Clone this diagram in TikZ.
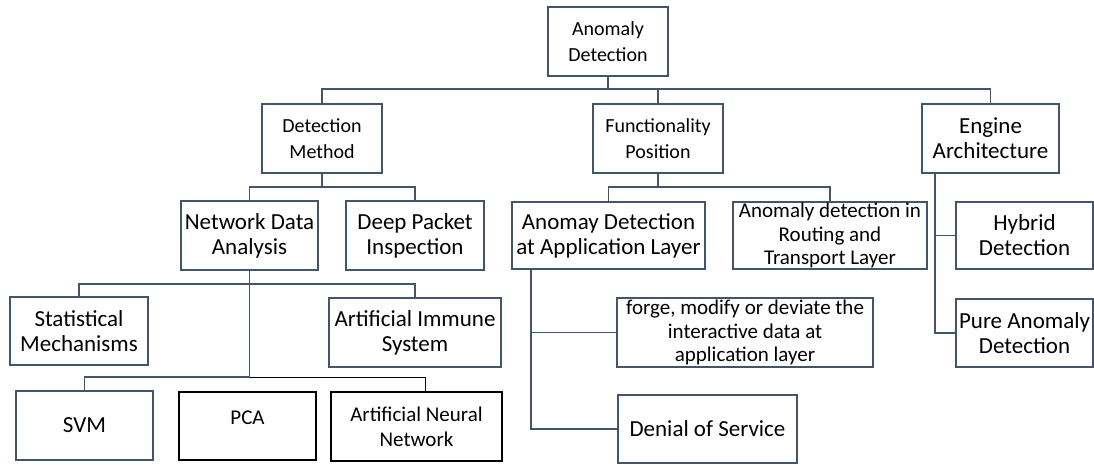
\documentclass[tikz,border=0pt]{standalone}
\usepackage{fontspec}
\setmainfont{Carlito}
\definecolor{slate}{RGB}{68,84,106}
\tikzset{
  box/.style={draw=slate, line width=1.8pt, fill=white, inner sep=0pt, align=center, text=black},
  bigtxt/.style={font=\fontsize{23}{25}\selectfont},
  midtxt/.style={font=\fontsize{20}{25.5}\selectfont},
  smalltxt/.style={font=\fontsize{21}{23.3}\selectfont},
  blackbox/.style={draw=black, line width=2.4pt, fill=white, inner sep=0pt, align=center},
  conn/.style={draw=slate, line width=1.8pt},
  thinconn/.style={draw=black, line width=1pt}
}
\begin{document}
\begin{tikzpicture}[x=1pt,y=-1pt]
\useasboundingbox (0,0) rectangle (1094,464);
% level 0/1
\node[box,midtxt,minimum width=120pt,minimum height=69pt] (root) at (608,41.5) {Anomaly\\Detection};
\node[box,midtxt,minimum width=120pt,minimum height=69pt] (dm) at (322,138.5) {Detection\\Method};
\node[box,midtxt,minimum width=130pt,minimum height=69pt] (fp) at (658,138.5) {Functionality\\Position};
\node[box,bigtxt,minimum width=137pt,minimum height=69pt] (ea) at (990.5,138.5) {Engine\\Architecture};
% level 2
\node[box,bigtxt,minimum width=137pt,minimum height=69pt] (nda) at (249.5,235.5) {Network Data\\Analysis};
\node[box,bigtxt,minimum width=138pt,minimum height=69pt] (dpi) at (415,235.5) {Deep Packet\\Inspection};
\node[box,bigtxt,minimum width=193pt,minimum height=67pt] (aal) at (608.5,235.5) {Anomay Detection\\at Application Layer};
\node[box,smalltxt,minimum width=194pt,minimum height=67pt] (art) at (830,235.5) {Anomaly detection in\\Routing and\\Transport Layer};
\node[box,bigtxt,minimum width=137pt,minimum height=67pt] (hyb) at (1024.5,235.5) {Hybrid\\Detection};
\node[box,bigtxt,minimum width=137pt,minimum height=68pt] (pure) at (1024.5,333) {Pure Anomaly\\Detection};
% level 3
\node[box,bigtxt,minimum width=138pt,minimum height=68pt] (stat) at (79,331) {Statistical\\Mechanisms};
\node[box,bigtxt,minimum width=172pt,minimum height=69pt] (ais) at (415,332.5) {Artificial Immune\\System};
\node[box,smalltxt,minimum width=256pt,minimum height=69pt] (forge) at (745,332.5) {forge, modify or deviate the\\interactive data at\\application layer};
\node[box,bigtxt,minimum width=179pt,minimum height=68pt] (dos) at (707.5,429) {Denial of Service};
% level 4
\node[box,bigtxt,minimum width=137pt,minimum height=69pt] (svm) at (84.5,425.5) {SVM};
\node[blackbox,minimum width=137pt,minimum height=68pt] (pca) at (247.5,426) {};
\node[font=\fontsize{21}{23.3}\selectfont] (pcat) at (247.5,418) {PCA};
\node[blackbox,smalltxt,minimum width=171pt,minimum height=69pt] (ann) at (416.5,426.5) {Artificial Neural\\[2pt]Network};
% bus coordinates
\coordinate (b1) at (0,89);
\coordinate (b2) at (0,187);
\coordinate (b3) at (0,284);
\coordinate (b4) at (0,377);
% root
\draw[conn] (root.south) -- (root.south |- b1);
\draw[conn] (dm.north) |- (root.south |- b1) -| (ea.north);
\draw[conn] (fp.north) -- (fp.north |- b1);
% detection method
\draw[conn] (dm.south) -- (dm.south |- b2);
\draw[conn] (nda.north) |- (dm.south |- b2) -| (dpi.north);
% functionality position
\draw[conn] (fp.south) -- (fp.south |- b2);
\draw[conn] (aal.north) |- (fp.south |- b2) -| (art.north);
% engine architecture
\draw[conn] ([xshift=14pt]ea.south west) |- (pure.west);
\draw[conn] ([xshift=14pt]ea.south west |- hyb.west) -- (hyb.west);
% application layer
\draw[conn] ([xshift=20pt]aal.south west) |- (dos.west);
\draw[conn] ([xshift=20pt]aal.south west |- forge.west) -- (forge.west);
% network data analysis
\draw[conn] (nda.south) -- (nda.south |- b4);
\draw[conn] (stat.north) |- (nda.south |- b3) -| (ais.north);
\draw[conn] (svm.north) |- (nda.south |- b4);
\draw[thinconn] (nda.south |- b4) -| ([xshift=8.5pt]ann.north);
\end{tikzpicture}
\end{document}
